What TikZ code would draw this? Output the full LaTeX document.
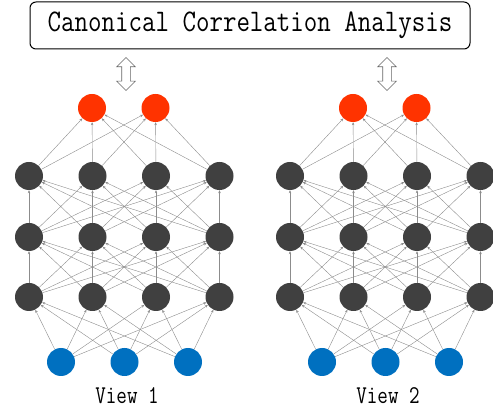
\documentclass[tikz,border=0pt]{standalone}
\usetikzlibrary{arrows.meta,shapes.arrows}

\definecolor{outred}{HTML}{FF3300}
\definecolor{hidgray}{HTML}{404040}
\definecolor{inblue}{HTML}{0070C0}

\tikzset{
    neuron/.style={circle, minimum size=28pt, inner sep=0pt},
    link/.style={draw=black!45, line width=0.4pt, -{Stealth[length=3pt, width=2.5pt]}},
    bothway/.style={double arrow, draw=black!60, fill=white, rotate=90, minimum height=33pt,
            inner xsep=0pt, inner ysep=4pt, double arrow head extend=5pt, line width=0.6pt},
}

\begin{document}
\begin{tikzpicture}[x=1pt, y=-1pt]

    \useasboundingbox (0, 0) rectangle (493, 411);

    \node[draw, line width=1pt, rounded corners=6pt, minimum width=440pt, minimum height=47pt,
        font=\fontsize{26.2}{30}\selectfont\ttfamily] (cca) at (250, 25.5)
        {\scalebox{1}[1.2]{Canonical Correlation Analysis}};

    \foreach \v/\ox in {1/0, 2/261} {
            % nodes
            \foreach \i in {1,...,4} {
                    \node[neuron, fill=hidgray] (ha\v\i) at (\ox - 34.5 + 63.5 * \i, 176) {};
                    \node[neuron, fill=hidgray] (hb\v\i) at (\ox - 34.5 + 63.5 * \i, 237) {};
                    \node[neuron, fill=hidgray] (hc\v\i) at (\ox - 34.5 + 63.5 * \i, 297) {};
                }
            \foreach \k in {1,2,3} {
                    \node[neuron, fill=inblue] (in\v\k) at (\ox - 2.5 + 63.5 * \k, 362) {};
                }
            \foreach \j in {1,2} {
                    \node[neuron, fill=outred] (out\v\j) at (\ox + 28.5 + 63.5 * \j, 108) {};
                }

            % links
            \foreach \i in {1,...,4} {
                    \foreach \k in {1,2,3} {
                            \draw[link] (in\v\k) -- (hc\v\i);
                        }
                    \foreach \m in {1,...,4} {
                            \draw[link] (hc\v\m) -- (hb\v\i);
                            \draw[link] (hb\v\m) -- (ha\v\i);
                        }
                    \foreach \j in {1,2} {
                            \draw[link] (ha\v\i) -- (out\v\j);
                        }
                }

            \node[bothway] (dv\v) at (\ox + 126, 74) {};
            \node[font=\fontsize{20.5}{24}\selectfont\ttfamily] (lab\v) at (\ox + 127, 396)
                {\scalebox{1}[1.25]{View \v}};
        }

\end{tikzpicture}
\end{document}
